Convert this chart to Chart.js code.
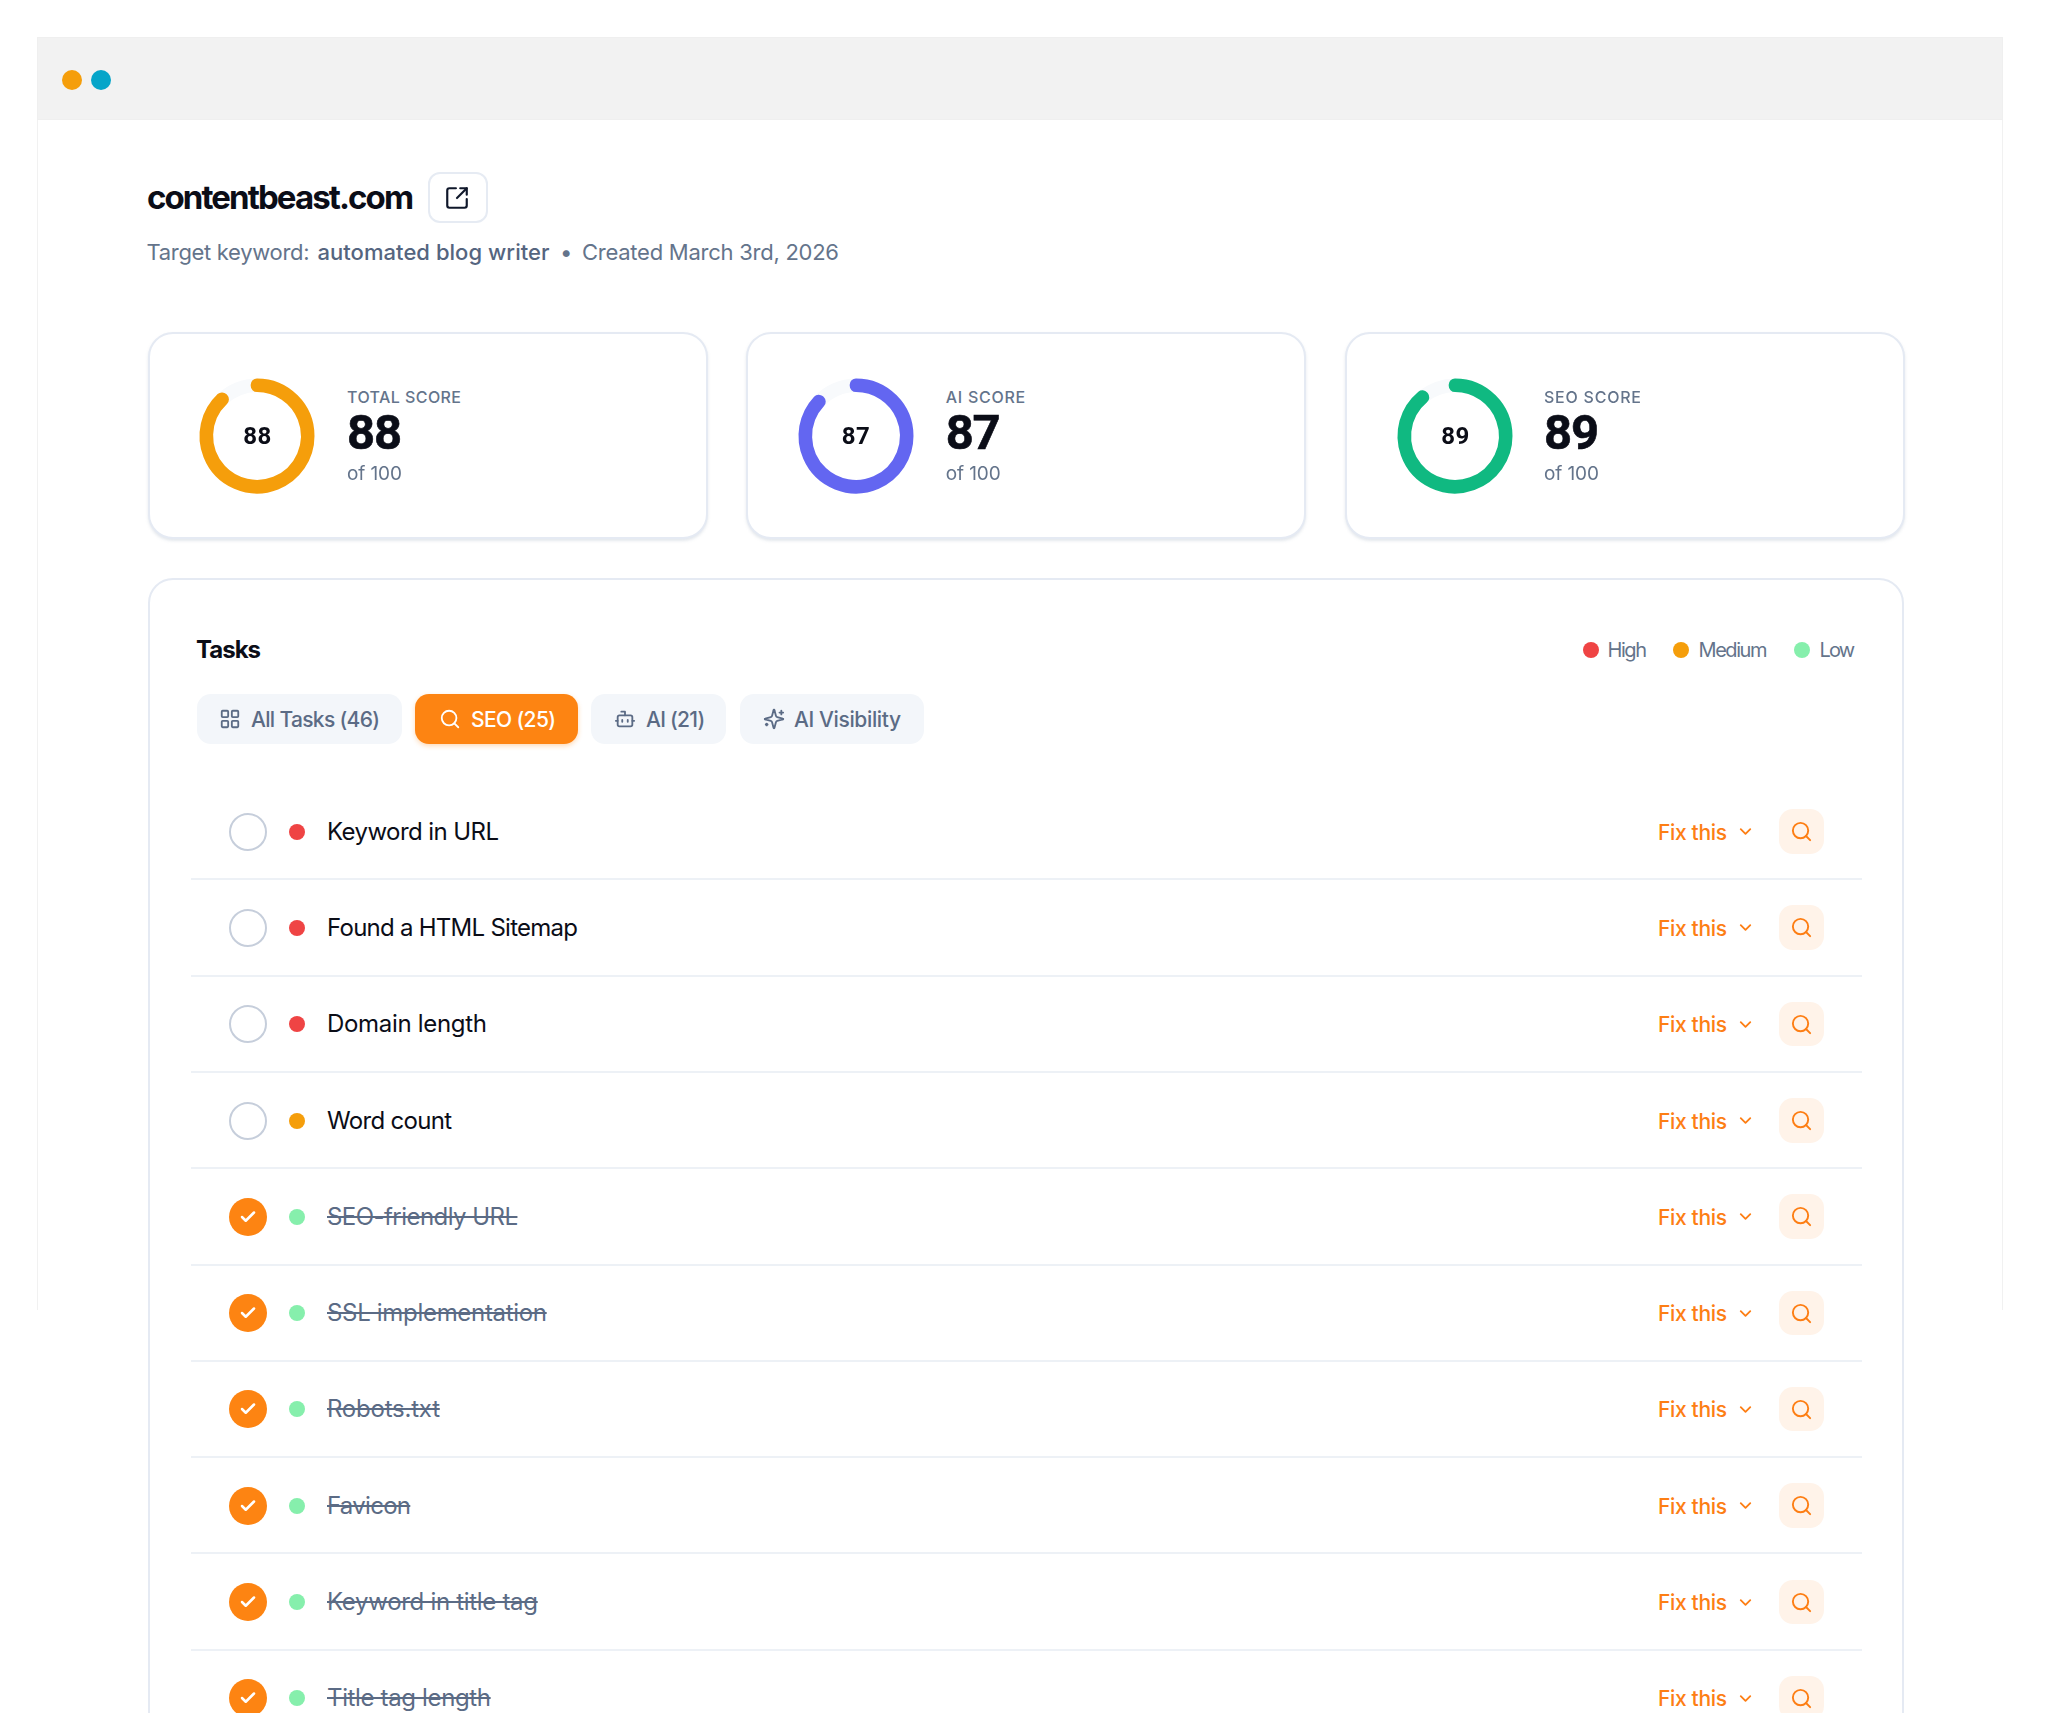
<!DOCTYPE html>
<html><head><meta charset="utf-8">
<script src="https://cdn.jsdelivr.net/npm/chart.js@4"></script>
<style>
html,body{margin:0;padding:0;width:2048px;height:1713px;overflow:hidden;background:#fff}
#page{position:relative;width:2048px;height:1713px;overflow:hidden;font-family:Inter,sans-serif}
#page div,#page canvas,#page svg{position:absolute}
.t{white-space:nowrap;line-height:1}
</style></head><body><div id="page"></div>
<script>
const scoreLabels=['TOTAL SCORE','AI SCORE','SEO SCORE'];
const scoreValues=[88,87,89];
const scoreColors=['#f59e0b','#6366f1','#10b981'];
const scoreMax=100;
const taskNames=['Keyword in URL','Found a HTML Sitemap','Domain length','Word count','SEO-friendly URL','SSL implementation','Robots.txt','Favicon','Keyword in title tag','Title tag length'];
const taskPriority=['High','High','High','Medium','Low','Low','Low','Low','Low','Low'];
const taskDone=[false,false,false,false,true,true,true,true,true,true];
const legendLabels=['High','Medium','Low'];
const legendColors=['#ef4444','#f59e0b','#86efac'];
const tabLabels=['All Tasks (46)','SEO (25)','AI (21)','AI Visibility'];

const page=document.getElementById('page');
function box(x,y,w,h,css){const d=document.createElement('div');d.style.cssText=`left:${x}px;top:${y}px;width:${w}px;height:${h}px;box-sizing:border-box;`+(css||'');page.appendChild(d);return d;}
const cv=document.createElement('canvas').getContext('2d');
function spacing(sample,size,weight,family,target){cv.font=`${weight} ${size}px ${family}`;return (target-cv.measureText(sample).width)/Math.max(sample.length-1,1);}
function text(s,x,cy,size,weight,color,ls,extra,family){const fam=family||'Inter';const d=document.createElement('div');d.className='t';d.textContent=s;
 d.style.cssText=`left:${x}px;top:${cy-size/2}px;font:${weight} ${size}px/1 ${fam};color:${color};letter-spacing:${ls||0}px;`+(extra||'');page.appendChild(d);return d;}
function svg(x,y,size,stroke,sw,body,vb){const ns='http://www.w3.org/2000/svg';const w=document.createElement('div');w.style.cssText=`left:${x}px;top:${y}px;width:${size}px;height:${size}px`;
 w.innerHTML=`<svg xmlns="${ns}" viewBox="0 0 ${vb||24} ${vb||24}" width="${size}" height="${size}" fill="none" stroke="${stroke}" stroke-width="${sw}" stroke-linecap="round" stroke-linejoin="round" style="left:0;top:0">${body}</svg>`;page.appendChild(w);}
const iSearch='<circle cx="11" cy="11" r="8"/><path d="m21 21-4.3-4.3"/>';
const iGrid='<rect x="3" y="3" width="7" height="7" rx="1"/><rect x="14" y="3" width="7" height="7" rx="1"/><rect x="14" y="14" width="7" height="7" rx="1"/><rect x="3" y="14" width="7" height="7" rx="1"/>';
const iBot='<path d="M12 8V4H8"/><rect x="4" y="8" width="16" height="12" rx="2"/><path d="M2 14h2"/><path d="M20 14h2"/><path d="M15 13v2"/><path d="M9 13v2"/>';
const iSpark='<path d="M9.9 15.5A2 2 0 0 0 8.5 14.1l-6.1-1.6a.5.5 0 0 1 0-1L8.5 9.9A2 2 0 0 0 9.9 8.5l1.6-6.1a.5.5 0 0 1 1 0l1.6 6.1a2 2 0 0 0 1.4 1.4l6.1 1.6a.5.5 0 0 1 0 1l-6.1 1.6a2 2 0 0 0-1.4 1.4l-1.6 6.1a.5.5 0 0 1-1 0z"/><path d="M20 3v4"/><path d="M22 5h-4"/><path d="M4 17v2"/><path d="M5 18H3"/>';
const iExt='<path d="M21 13v6a2 2 0 0 1-2 2H5a2 2 0 0 1-2-2V5a2 2 0 0 1 2-2h6"/><path d="m21 3-9 9"/><path d="M15 3h6v6"/>';
const iChev='<path d="m6 9 6 6 6-6"/>';
const iCheck='<path d="M20 6 9 17l-5-5"/>';

// browser window frame
box(37,37,1966,1273,'border:1.5px solid #f1f1f1;border-bottom:none');
box(37,37,1966,83,'background:#f2f2f2;border:1px solid #efefef');
box(62,70,20,20,'border-radius:50%;background:#f59e0b');
box(91,70,20,20,'border-radius:50%;background:#06a5c9');

// heading
text('contentbeast.com',147,197.5,33,700,'#0b0d17',spacing('contentbeast.com',33,700,'Inter',267));
box(428,172,59.5,51,'border:2px solid #e6ebf3;border-radius:12px;background:#fff');
svg(444,184.5,26,'#0f172a',2,iExt);
const subC='#64748b',subB='#55657f';
text('Target keyword:',146.5,252,22,400,subC,spacing('Target keyword:',22,400,'Inter',163));
text('automated blog writer',317.5,252,22,500,subB,spacing('automated blog writer',22,500,'Inter',232));
text('•',560,252,22,400,subC,0);
text('Created March 3rd, 2026',582,252,22,400,subC,spacing('Created March 3rd, 2026',22,400,'Inter',257));

// score cards
const cardX=[148,746,1344.5],donutX=[257,855.5,1455],labelX=[347,945.7,1544],labelW=[114,79.5,97];
scoreValues.forEach((v,i)=>{
 box(cardX[i],332,560,207,'background:#fff;border:2px solid #e5eaf3;border-radius:25px;box-shadow:0 2px 3px rgba(148,163,184,.25)');
 const c=document.createElement('canvas');c.width=130;c.height=130;c.style.cssText=`left:${donutX[i]-65}px;top:${436-65}px;width:130px;height:130px`;page.appendChild(c);
 new Chart(c,{type:'doughnut',data:{labels:['Remaining',scoreLabels[i]],datasets:[{data:[scoreMax-v,v],backgroundColor:['#f8fafc',scoreColors[i]],borderColor:['#f8fafc',scoreColors[i]],borderWidth:12.6,borderJoinStyle:'round',borderAlign:'center'}]},
  options:{responsive:false,animation:false,radius:51.2,cutout:'98%',rotation:360*v/scoreMax,plugins:{legend:{display:false},tooltip:{enabled:false}},events:[]}});
 const n=String(v);
 text(n,0,436.2,24,700,'#0b0d17',spacing(n,24,700,'Roboto',28),'left:0;width:'+(donutX[i]*2+1)+'px;text-align:center','Roboto');
 text(scoreLabels[i],labelX[i],397,16,500,'#64748b',spacing(scoreLabels[i],16,500,'Inter',labelW[i]));
 text(n,labelX[i],432,49,700,'#0b0d17',spacing(n,49,700,'Roboto',55),'-webkit-text-stroke:.6px #0b0d17','Roboto');
 text('of '+scoreMax,labelX[i],473,19,400,'#64748b',spacing('of 100',19,400,'Inter',55));
});

// tasks card
box(148,578,1756,1300,'background:#fff;border:2px solid #e5eaf3;border-radius:25px');
text('Tasks',196,649.7,24,650,'#0b0d17',spacing('Tasks',24,650,'Inter',65));
const legDot=[1590.5,1680.7,1801.6],legTxt=[1607.5,1698.5,1819.5],legW=[39.5,69,35.5];
legendLabels.forEach((l,i)=>{box(legDot[i]-8,641.5,16,16,`border-radius:50%;background:${legendColors[i]}`);
 text(l,legTxt[i],650,20,400,'#64748b',spacing(l,20,400,'Inter',legW[i]));});
const tabX=[196.5,415,590.5,740],tabW=[205.5,162.5,135,184],tabIcon=[iGrid,iSearch,iBot,iSpark],tabTxt=[251,471,646,794],tabTW=[129,85,59,107],tabIc=[219,439,614,763];
tabLabels.forEach((l,i)=>{const on=i===1;
 box(tabX[i],693.5,tabW[i],50,`border-radius:14px;background:${on?'#fd8412':'#f3f6fa'};`+(on?'box-shadow:0 2px 5px rgba(253,132,18,.3)':''));
 svg(tabIc[i],708,22,on?'#fff':'#5b6b85',2,tabIcon[i]);
 text(l,tabTxt[i],719,21,500,on?'#fff':'#5b6b85',spacing(l,21,500,'Inter',tabTW[i]));
});

// rows
const rowY0=831.6,rowH=96.3;
const taskTextW=[172,251,160,125,191,220,113,84,211,164];
const fixLS=spacing('Fix this',21,500,'Inter',69);
const prioColor=Object.fromEntries(legendLabels.map((l,i)=>[l,legendColors[i]]));
taskNames.forEach((name,i)=>{const y=rowY0+i*rowH;
 if(taskDone[i]){box(228.6,y-19,38,38,'border-radius:50%;background:#fd8412');svg(238.6,y-9,18,'#fff',3.4,iCheck);}
 else box(228.6,y-19,38,38,'border-radius:50%;border:2px solid #c6cedb;background:#fff');
 box(288.6,y-8,16,16,`border-radius:50%;background:${prioColor[taskPriority[i]]}`);
 text(name,327,y,24,400,taskDone[i]?'#5b6b85':'#0b0d17',spacing(name,24,400,'Inter',taskTextW[i]),taskDone[i]?'text-decoration:line-through':'');
 text('Fix this',1658,y+0.5,21,500,'#fd7e14',fixLS);
 svg(1736,y-9.5,19,'#fd7e14',2.3,iChev);
 box(1779.3,y-22.5,44.5,44.5,'border-radius:14px;background:#fff3e9');
 svg(1789.8,y-11.5,23,'#fd7e14',2,iSearch);
 if(i<taskNames.length-1) box(190.5,y+46.7,1671.5,2,'background:#edf1f6');
});
</script></body></html>
